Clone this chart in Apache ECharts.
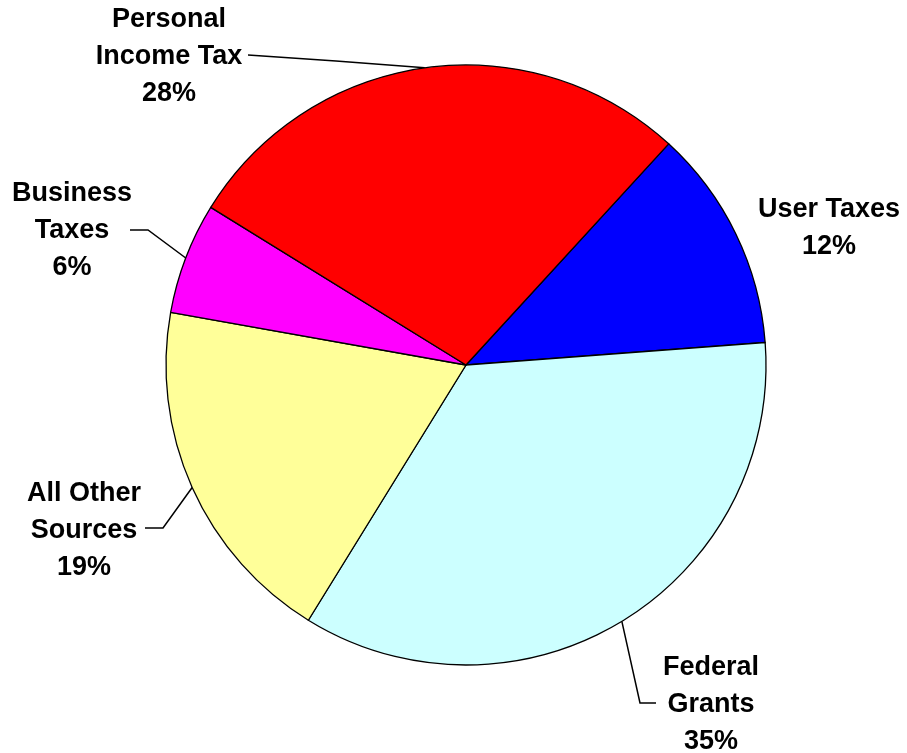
<!DOCTYPE html>
<html>
<head>
<meta charset="utf-8">
<script src="https://cdn.jsdelivr.net/npm/echarts@6/dist/echarts.min.js"></script>
<style>
  html, body { margin: 0; padding: 0; background: #ffffff; }
  #chart { width: 907px; height: 753px; }
</style>
</head>
<body>
<div id="chart"></div>
<script>
// Revenue sources, listed clockwise from the top-right slice
var categories = ['User Taxes', 'Federal\nGrants', 'All Other\nSources', 'Business\nTaxes', 'Personal\nIncome Tax'];
var shares = [12, 35, 19, 6, 28];
var sliceColors = ['#0000FF', '#CCFFFF', '#FFFF99', '#FF00FF', '#FF0000'];

// Where each label block sits and how its leader line bends
var labelSpots = [
  { x: 829, y: 228, line: null },
  { x: 711, y: 705, line: [[640, 703], [656, 703]] },
  { x: 84,  y: 531, line: [[163, 528], [145, 528]] },
  { x: 72,  y: 231, line: [[148, 230], [130, 230]] },
  { x: 169, y: 57,  line: [[336, 61], [248, 55]] }
];

var chart = echarts.init(document.getElementById('chart'));

var data = categories.map(function (name, i) {
  return {
    name: name,
    value: shares[i],
    itemStyle: { color: sliceColors[i] },
    labelLine: { show: labelSpots[i].line !== null }
  };
});

chart.setOption({
  animation: false,
  backgroundColor: '#ffffff',
  series: [{
    type: 'pie',
    center: [466, 365],
    radius: 300,
    startAngle: 47.5,
    clockwise: true,
    data: data,
    itemStyle: { borderColor: '#000000', borderWidth: 1.3 },
    emphasis: { disabled: true },
    label: {
      show: true,
      position: 'outside',
      formatter: '{b}\n{d}%',
      fontFamily: 'Liberation Sans, Arial, sans-serif',
      fontWeight: 'bold',
      fontSize: 27,
      lineHeight: 37,
      color: '#000000',
      align: 'center',
      overflow: 'none'
    },
    labelLine: {
      show: true,
      lineStyle: { color: '#000000', width: 1.5 }
    },
    labelLayout: function (params) {
      var spot = labelSpots[params.dataIndex];
      var out = { x: spot.x, y: spot.y, align: 'center', verticalAlign: 'middle' };
      if (spot.line && params.labelLinePoints) {
        out.labelLinePoints = [params.labelLinePoints[0], spot.line[0], spot.line[1]];
      }
      return out;
    }
  }]
});
</script>
</body>
</html>
